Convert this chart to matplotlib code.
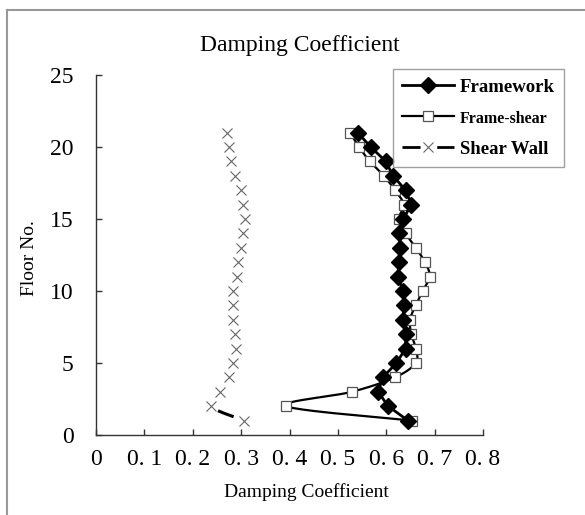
import numpy as np
import matplotlib
matplotlib.use('Agg')
import matplotlib.pyplot as plt
from matplotlib.lines import Line2D

plt.rcParams['lines.scale_dashes'] = False
SERIF = ['Liberation Serif', 'DejaVu Serif']

floors = list(range(1, 22))
framework = [0.645, 0.604, 0.583, 0.593, 0.621, 0.640, 0.640, 0.635, 0.636, 0.635,
             0.624, 0.626, 0.628, 0.627, 0.635, 0.652, 0.640, 0.614, 0.599, 0.568, 0.541]
frame_shear = [0.653, 0.393, 0.529, 0.618, 0.661, 0.661, 0.652, 0.649, 0.661, 0.675,
               0.690, 0.680, 0.661, 0.640, 0.626, 0.636, 0.618, 0.595, 0.566, 0.544, 0.525]
shear_wall = [0.306, 0.237, 0.256, 0.275, 0.283, 0.290, 0.287, 0.284, 0.284, 0.284,
              0.291, 0.294, 0.299, 0.303, 0.309, 0.303, 0.299, 0.287, 0.280, 0.275, 0.271]

xticks = [0, 0.1, 0.2, 0.3, 0.4, 0.5, 0.6, 0.7, 0.8]
xtick_labels = ['0', '0. 1', '0. 2', '0. 3', '0. 4', '0. 5', '0. 6', '0. 7', '0. 8']
yticks = [0, 5, 10, 15, 20, 25]
ytick_labels = ['0', '5', '10', '15', '20', '25']
series_names = ['Framework', 'Frame-shear', 'Shear Wall']


def catmull_rom(xs, ys, n=24):
    p = np.column_stack([xs, ys]).astype(float)
    p = np.vstack([p[0], p, p[-1]])
    out = []
    t = np.linspace(0, 1, n)[:, None]
    for i in range(1, len(p) - 2):
        p0, p1, p2, p3 = p[i - 1], p[i], p[i + 1], p[i + 2]
        seg = 0.5 * (2 * p1 + (-p0 + p2) * t + (2 * p0 - 5 * p1 + 4 * p2 - p3) * t ** 2
                     + (-p0 + 3 * p1 - 3 * p2 + p3) * t ** 3)
        out.append(seg if i == 1 else seg[1:])
    out = np.vstack(out)
    return out[:, 0], out[:, 1]


W, H = 585, 515
fig = plt.figure(figsize=(W / 100, H / 100), dpi=100)
ax = fig.add_axes([96 / W, 1 - 435 / H, (483 - 96) / W, (435 - 75) / H])

# Framework
ax.plot(framework, floors, color='black', lw=2.0, marker='D', ms=8.5,
        mfc='black', mec='black', zorder=4)

# Frame-shear (smoothed line)
sx, sy = catmull_rom(frame_shear, floors)
ax.plot(sx, sy, color='black', lw=1.6, zorder=3)
ax.plot(frame_shear, floors, linestyle='none', marker='s', ms=7.5,
        mfc='white', mec='#555555', mew=0.9, zorder=3.5)

# Shear wall (dashed smoothed line, mostly gaps)
wx, wy = catmull_rom(shear_wall, floors)
ax.plot(wx, wy, color='black', lw=2.2, linestyle=(1992.0, (12.0, 1988.0)), zorder=2)
ax.plot(shear_wall, floors, linestyle='none', marker='x', ms=7.5,
        color='#666666', mew=0.8, zorder=2.5)

ax.set_xlim(0, 0.8)
ax.set_ylim(0, 25)
ax.set_xticks(xticks)
ax.set_xticklabels(xtick_labels)
ax.set_yticks(yticks)
ax.set_yticklabels(ytick_labels)
for s in ['top', 'right']:
    ax.spines[s].set_visible(False)
for s in ['left', 'bottom']:
    ax.spines[s].set_color('#333333')
    ax.spines[s].set_linewidth(1.0)
ax.tick_params(axis='both', direction='in', length=4, width=1, color='#333333',
               labelsize=17)
ax.tick_params(axis='x', pad=10)
ax.tick_params(axis='y', pad=16)
for lab in ax.get_xticklabels() + ax.get_yticklabels():
    lab.set_family(SERIF)

fig.text(300 / W, 1 - 45 / H, 'Damping Coefficient', family=SERIF, fontsize=17,
         ha='center', va='center')
fig.text(306 / W, 1 - 492 / H, 'Damping Coefficient', family=SERIF, fontsize=14,
         ha='center', va='center')
fig.text(30 / W, 1 - 258 / H, 'Floor No.', family=SERIF, fontsize=14,
         ha='center', va='center', rotation=90)

handles = [
    Line2D([], [], color='black', lw=2.0, marker='D', ms=8.5, mfc='black', mec='black'),
    Line2D([], [], color='black', lw=1.6, marker='s', ms=7.5, mfc='white',
           mec='#555555', mew=0.9),
    Line2D([], [], color='black', lw=2.0, linestyle=(0, (13.0, 12.0)), marker='x',
           ms=7.5, mec='#666666', mew=0.8),
]
leg = fig.legend(handles, series_names, loc='upper left',
                 bbox_to_anchor=(393 / W, 1 - 69 / H), borderaxespad=0,
                 frameon=True, fancybox=False, edgecolor='#888888',
                 prop={'family': SERIF, 'weight': 'bold', 'size': 13.5},
                 handlelength=2.75, handletextpad=0.3, labelspacing=0.75,
                 borderpad=0.5)
leg.get_frame().set_linewidth(1.0)
leg.get_texts()[1].set_fontsize(11.5)

# figure border (top and left)
fig.add_artist(Line2D([7 / W, 7 / W], [0, 1 - 10 / H], transform=fig.transFigure,
                      color='#999999', lw=1.5))
fig.add_artist(Line2D([7 / W, 1], [1 - 10 / H, 1 - 10 / H], transform=fig.transFigure,
                      color='#999999', lw=1.5))

fig.savefig('out.png', dpi=100)
